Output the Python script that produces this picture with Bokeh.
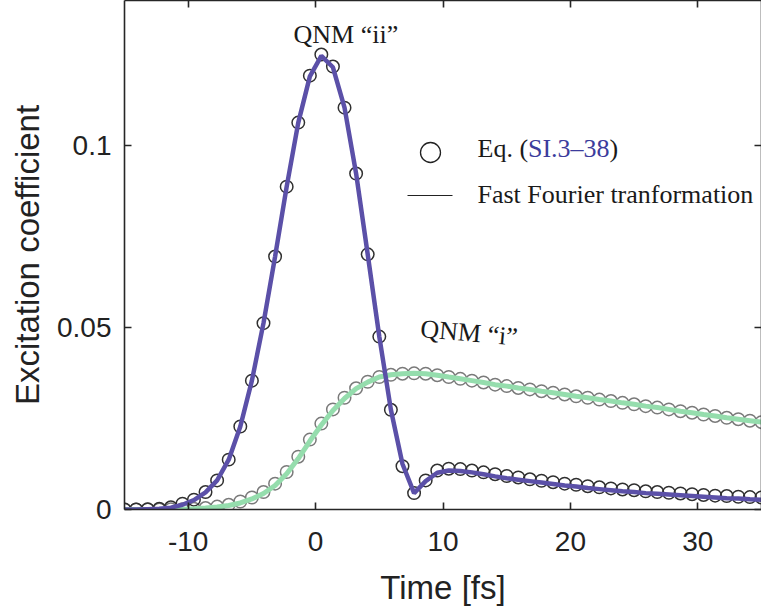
from bokeh.plotting import figure
from bokeh.models import Range1d, LinearAxis, FixedTicker, Label, BoxAnnotation, Arrow
from bokeh.embed import file_html
from bokeh.resources import INLINE

# ---- data ----
time_fs = [-15.00, -14.09, -13.18, -12.27, -11.36, -10.45, -9.55, -8.64, -7.73, -6.82,
           -5.91, -5.00, -4.09, -3.18, -2.27, -1.36, -0.45, 0.45, 1.36, 2.27,
           3.18, 4.09, 5.00, 5.91, 6.82, 7.73, 8.64, 9.55, 10.45, 11.36,
           12.27, 13.18, 14.09, 15.00, 15.91, 16.82, 17.73, 18.64, 19.55, 20.45,
           21.36, 22.27, 23.18, 24.09, 25.00, 25.91, 26.82, 27.73, 28.64, 29.55,
           30.45, 31.36, 32.27, 33.18, 34.09, 35.00]

# QNM "ii" -- Eq. (SI.3-38) circles
ii_eq = [0.0000, 0.0000, 0.0001, 0.0002, 0.0006, 0.0016, 0.0027, 0.0048, 0.0080, 0.0137,
         0.0228, 0.0354, 0.0512, 0.0695, 0.0887, 0.1063, 0.1192, 0.1250, 0.1217, 0.1104,
         0.0923, 0.0701, 0.0475, 0.0274, 0.0119, 0.0045, 0.0080, 0.0107, 0.0112, 0.0111,
         0.0107, 0.0102, 0.0097, 0.0092, 0.0088, 0.0083, 0.0079, 0.0075, 0.0071, 0.0068,
         0.0064, 0.0061, 0.0058, 0.0055, 0.0053, 0.0050, 0.0048, 0.0046, 0.0044, 0.0042,
         0.0040, 0.0038, 0.0037, 0.0035, 0.0034, 0.0033]
# QNM "ii" -- FFT line
ii_fft = [0.0000, 0.0000, 0.0001, 0.0002, 0.0005, 0.0013, 0.0026, 0.0047, 0.0080, 0.0137,
          0.0228, 0.0354, 0.0512, 0.0695, 0.0887, 0.1063, 0.1190, 0.1246, 0.1215, 0.1104,
          0.0923, 0.0701, 0.0475, 0.0274, 0.0125, 0.0045, 0.0078, 0.0101, 0.0107, 0.0106,
          0.0102, 0.0097, 0.0091, 0.0086, 0.0082, 0.0078, 0.0074, 0.0070, 0.0066, 0.0063,
          0.0059, 0.0056, 0.0053, 0.0050, 0.0048, 0.0045, 0.0043, 0.0041, 0.0039, 0.0037,
          0.0035, 0.0033, 0.0031, 0.0030, 0.0028, 0.0027]
# QNM "i" -- Eq. (SI.3-38) circles
i_eq = [0.0000, 0.0000, 0.0000, 0.0000, 0.0001, 0.0001, 0.0002, 0.0004, 0.0008, 0.0013,
        0.0022, 0.0033, 0.0048, 0.0071, 0.0103, 0.0145, 0.0192, 0.0236, 0.0275, 0.0307,
        0.0333, 0.0351, 0.0364, 0.0370, 0.0373, 0.0374, 0.0373, 0.0369, 0.0364, 0.0359,
        0.0354, 0.0349, 0.0343, 0.0339, 0.0334, 0.0330, 0.0325, 0.0321, 0.0316, 0.0311,
        0.0307, 0.0302, 0.0298, 0.0293, 0.0289, 0.0284, 0.0280, 0.0275, 0.0270, 0.0266,
        0.0261, 0.0257, 0.0252, 0.0248, 0.0244, 0.0240]
# QNM "i" -- FFT line
i_fft = [0.0000, 0.0000, 0.0000, 0.0000, 0.0001, 0.0001, 0.0002, 0.0004, 0.0007, 0.0011,
         0.0018, 0.0029, 0.0044, 0.0066, 0.0098, 0.0140, 0.0188, 0.0232, 0.0272, 0.0305,
         0.0332, 0.0350, 0.0364, 0.0370, 0.0373, 0.0374, 0.0373, 0.0369, 0.0364, 0.0359,
         0.0354, 0.0349, 0.0343, 0.0339, 0.0334, 0.0330, 0.0325, 0.0321, 0.0316, 0.0311,
         0.0307, 0.0302, 0.0298, 0.0293, 0.0289, 0.0284, 0.0280, 0.0275, 0.0270, 0.0266,
         0.0261, 0.0257, 0.0252, 0.0248, 0.0244, 0.0240]

x_ticks = [-10, 0, 10, 20, 30]
x_tick_labels = ["-10", "0", "10", "20", "30"]
y_ticks = [0, 0.05, 0.1]
y_tick_labels = ["0", "0.05", "0.1"]

# ---- figure ----
AX = "#262626"
SANS = "Liberation Sans"
SERIF = "Liberation Serif"

p = figure(width=761, height=608, output_backend="svg", toolbar_location=None,
           x_range=Range1d(-15, 35), y_range=Range1d(0, 0.13984),
           min_border_left=124, min_border_right=0, min_border_top=0, min_border_bottom=99,
           x_axis_label="Time [fs]", y_axis_label="Excitation coefficient")
p.grid.visible = False
p.outline_line_color = None
p.background_fill_color = "white"
p.border_fill_color = "white"


def style_axis(ax):
    ax.axis_line_color = AX
    ax.axis_line_width = 1.6
    ax.major_tick_line_color = AX
    ax.major_tick_line_width = 1.6
    ax.major_tick_in = 7
    ax.major_tick_out = 0
    ax.minor_tick_line_color = None
    ax.major_label_text_font = SANS
    ax.major_label_text_color = "#222222"
    ax.major_label_text_font_size = "28px"
    ax.axis_label_text_font = SANS
    ax.axis_label_text_font_style = "normal"
    ax.axis_label_text_font_size = "33px"
    ax.axis_label_text_color = "#222222"


xax = p.xaxis[0]
yax = p.yaxis[0]
style_axis(xax)
style_axis(yax)
xax.ticker = FixedTicker(ticks=x_ticks)
xax.major_label_overrides = dict(zip(x_ticks, x_tick_labels))
yax.ticker = FixedTicker(ticks=y_ticks)
yax.major_label_overrides = dict(zip(y_ticks, y_tick_labels))
xax.major_label_standoff = 22
xax.axis_label_standoff = 15
yax.major_label_standoff = 13
yax.axis_label_standoff = 8

# box frame with inward ticks on top and right (no labels)
top = LinearAxis(ticker=FixedTicker(ticks=x_ticks))
right = LinearAxis(ticker=FixedTicker(ticks=y_ticks))
for ax in (top, right):
    style_axis(ax)
    ax.major_label_text_color = None
    ax.major_label_text_font_size = "1px"
    ax.major_label_standoff = 0
    ax.axis_label = None
p.add_layout(top, "above")
p.add_layout(right, "right")

# ---- data glyphs ----
p.scatter(time_fs, i_eq, size=12.5, fill_color=None, line_color="#7a7a7a", line_width=1.5)
p.scatter(time_fs, ii_eq, size=12.5, fill_color=None, line_color="#303030", line_width=1.5)
p.line(time_fs, i_fft, line_color="#95DDAD", line_width=5)
p.line(time_fs, ii_fft, line_color="#5B50A8", line_width=4.5)

# ---- legend: samples as annotations (screen units, frame relative) ----
p.add_layout(BoxAnnotation(left=296, right=316, bottom=347, top=367,
                           left_units="screen", right_units="screen",
                           bottom_units="screen", top_units="screen",
                           border_radius=10, fill_color=None, fill_alpha=0,
                           line_color="#222222", line_alpha=1.0, line_width=1.3))
p.add_layout(Arrow(x_start=283, y_start=314, x_end=328, y_end=314,
                   start_units="screen", end_units="screen", start=None, end=None,
                   line_color="#222222", line_width=1.2))

TXT = "#1a1a1a"


def lab(text, x, y, color=TXT, angle=0.0):
    p.add_layout(Label(x=x, y=y, x_units="screen", y_units="screen", text=text,
                       text_font=SERIF, text_font_size="26px", text_color=color,
                       text_baseline="alphabetic", angle=angle))


lab("Eq. (", 353, 361)
lab("SI.3–38", 403.5, 361, color="#3C3C9C")
lab(")", 485, 361)
lab("Fast Fourier tranformation", 353, 315)
lab("QNM “ii”", 169, 475)
lab("QNM “i”", 296, 181, angle=-0.09)

open("out.html", "w").write(file_html(p, INLINE))
